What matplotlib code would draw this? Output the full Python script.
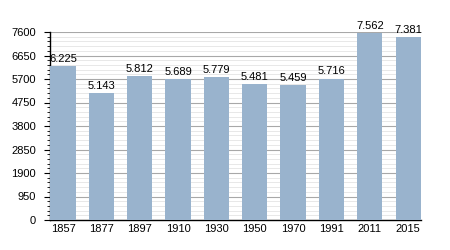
import matplotlib
matplotlib.use("Agg")
import matplotlib.pyplot as plt
from matplotlib.ticker import MultipleLocator

plt.rcParams['font.family'] = ['Liberation Sans', 'DejaVu Sans']

years = ["1857", "1877", "1897", "1910", "1930", "1950", "1970", "1991", "2011", "2015"]
population = [6225, 5143, 5812, 5689, 5779, 5481, 5459, 5716, 7562, 7381]
labels = ["6.225", "5.143", "5.812", "5.689", "5.779", "5.481", "5.459", "5.716", "7.562", "7.381"]

fig = plt.figure(figsize=(4.5, 2.5), dpi=100)
ax = fig.add_axes([0.111, 0.12, 0.825, 0.752])

x = list(range(len(years)))
ax.bar(x, population, width=0.66, color="#99b3cd", zorder=3)
for xi, v, lab in zip(x, population, labels):
    ax.text(xi, v + 90, lab, ha="center", va="bottom", fontsize=8, clip_on=False, zorder=4)

ax.set_ylim(0, 7600)
ax.set_xlim(-0.34, len(years) - 1 + 0.34)
ax.yaxis.set_major_locator(MultipleLocator(950))
ax.yaxis.set_minor_locator(MultipleLocator(190))
ax.grid(axis="y", which="major", color="#a8a8a8", linewidth=0.8, zorder=0)
ax.grid(axis="y", which="minor", color="#e4e4e4", linewidth=0.6, zorder=0)
ax.set_xticks(x)
ax.set_xticklabels(years)
ax.tick_params(axis="x", length=0, labelsize=8, pad=3)
ax.tick_params(axis="y", which="major", length=4, labelsize=8, direction="out", pad=6)
ax.tick_params(axis="y", which="minor", length=2.5, direction="out")
for s in ["top", "right"]:
    ax.spines[s].set_visible(False)
ax.spines["left"].set_linewidth(1)
ax.spines["bottom"].set_linewidth(1)

fig.savefig("out.png", dpi=100)
